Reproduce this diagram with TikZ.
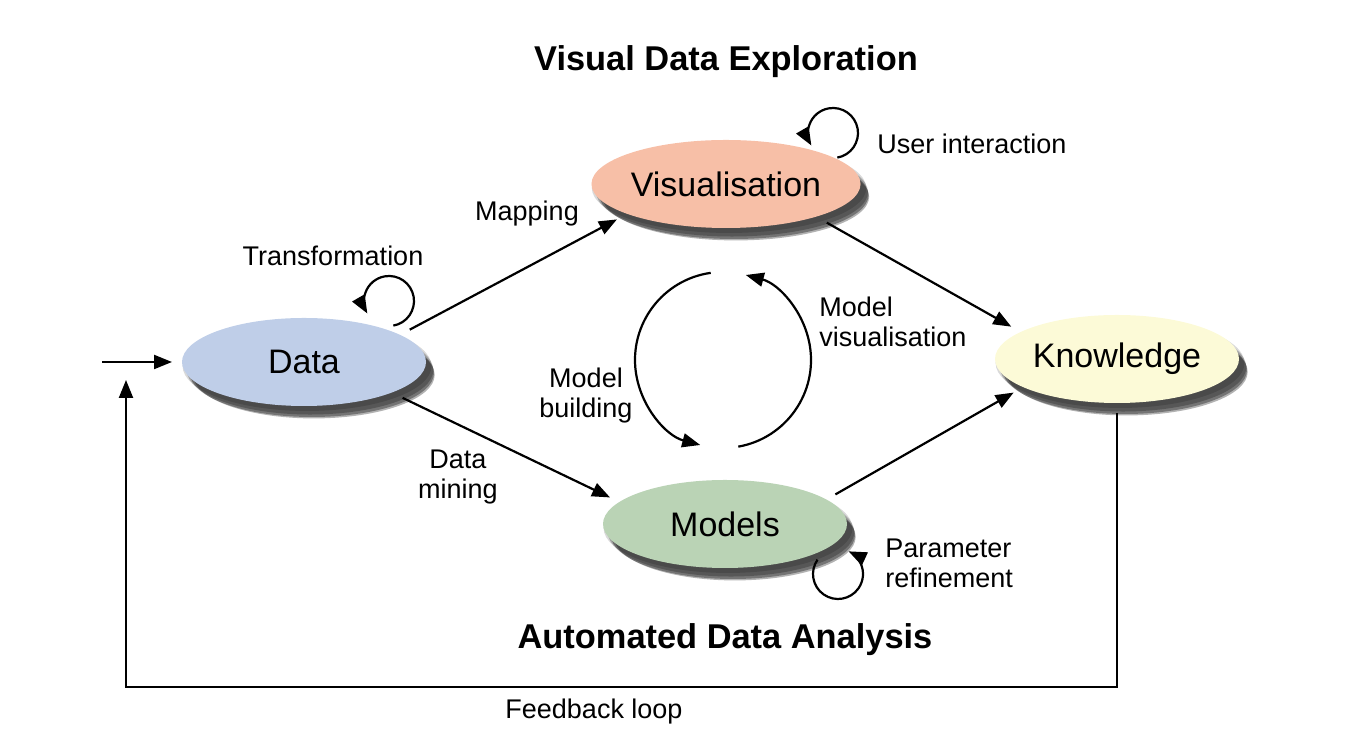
\documentclass[tikz,border=0pt]{standalone}
\usepackage{fontspec}
\setmainfont{Liberation Sans}
\usetikzlibrary{arrows.meta,shapes,shadows}
\definecolor{datablue}{RGB}{191,206,232}
\definecolor{visred}{RGB}{247,191,167}
\definecolor{knowyellow}{RGB}{252,250,215}
\definecolor{modgreen}{RGB}{186,211,181}
\tikzset{
  basic/.style  = {ellipse, minimum width=122pt, minimum height=44pt, inner sep=0pt,
                   outer sep=5pt, font=\fontsize{17}{20}\selectfont,
                   general shadow={fill=black, opacity=.15, shadow xshift=1.5pt, shadow yshift=-2pt, shadow scale=1.02},
                   general shadow={fill=black, opacity=.25, shadow xshift=3pt, shadow yshift=-4pt, shadow scale=1.01},
                   general shadow={fill=black, opacity=.35, shadow xshift=4pt, shadow yshift=-5.5pt},
                   general shadow={fill=black, opacity=.3, shadow xshift=5pt, shadow yshift=-6.5pt, shadow scale=.99}},
  stage/.style  = {basic, fill=#1},
  note/.style   = {font=\fontsize{13.5}{15}\selectfont, inner sep=0pt},
  heading/.style = {font=\bfseries\fontsize{17.2}{20}\selectfont, inner sep=0pt},
  conn/.style   = {line width=1.1pt, -{Triangle[length=9pt,width=7pt]}}
}
\begin{document}
\begin{tikzpicture}[x=0.5pt,y=0.5pt]
\useasboundingbox (0,0) rectangle (1350,743);
\node[stage=datablue] (data) at (304,381) {Data};
\node[stage=visred] (vis) at (726,559) {Visualisation};
\node[stage=knowyellow] (know) at (1117,384) {Knowledge};
\node[stage=modgreen] (models) at (725,219) {Models};

\node[heading] (top) at (726,681) {Visual Data Exploration};
\node[heading] (bottom) at (725,103) {Automated Data Analysis};

\node[note] (mapping) at (527,529) {Mapping};
\node[note] (transf) at (333,487) {Transformation};
\node[note, anchor=west] (user) at (877,599) {User interaction};
\node[note, anchor=west, align=left] (modvis) at (819,421) {Model\\visualisation};
\node[note, align=center] (modbuild) at (586,347) {Model\\building};
\node[note, align=center] (mining) at (458,266) {Data\\mining};
\node[note, anchor=west, align=left] (param) at (885,180) {Parameter\\refinement};
\node[note] (feedback) at (594,31) {Feedback loop};

\draw[conn] (data.17) -- (vis.198);
\draw[conn] (data.-20) -- (models.167);
\draw[conn] (vis.-21) -- (know.163);
\draw[conn] (models.15) -- (know.198);

\coordinate (entry) at (102,381);
\draw[conn] (entry) -- (data.west);

\coordinate (fbcorner) at (126,56);
\coordinate (fbend) at (126,363);
\draw[conn] (know.south) |- (fbcorner) -- (fbend);

\coordinate (tloop) at (389,442);
\coordinate (uloop) at (833,610);
\coordinate (ploop) at (838,169);
\draw[conn] (tloop) ++(-80:12.5pt) arc[start angle=-80, end angle=210, radius=12.5pt];
\draw[conn] (uloop) ++(-80:12.5pt) arc[start angle=-80, end angle=210, radius=12.5pt];
\draw[conn] (ploop) ++(145:12.5pt) arc[start angle=145, end angle=425, radius=12.5pt];

\coordinate (cycle) at (723,383);
\draw[conn] (cycle) ++(98:44pt) arc[start angle=98, end angle=255, radius=44pt];
\draw[conn] (cycle) ++(-80:44pt) arc[start angle=-80, end angle=75, radius=44pt];
\end{tikzpicture}
\end{document}
